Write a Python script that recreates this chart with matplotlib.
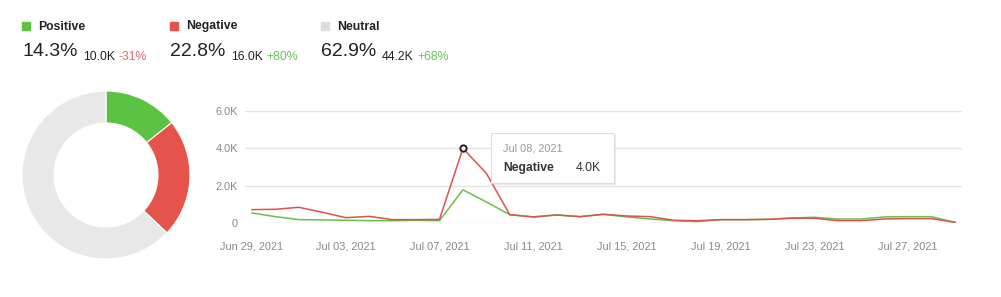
import pandas as pd
import matplotlib
matplotlib.use("Agg")
import matplotlib.pyplot as plt
import matplotlib.dates as mdates
from matplotlib.ticker import FuncFormatter
from matplotlib.patches import Rectangle
from matplotlib.transforms import Affine2D

plt.rcParams['font.family'] = ['Liberation Sans', 'DejaVu Sans']

# dados
categorias = ['Positive', 'Negative', 'Neutral']
percentuais = [14.3, 22.8, 62.9]
totais = ['10.0K', '16.0K', '44.2K']
variacoes = ['-31%', '+80%', '+68%']
datas = pd.date_range('2021-06-29', '2021-07-29', freq='D')
positivo = [550, 355, 195, 180, 160, 140, 140, 160, 140, 1790, 1140, 460, 340, 445,
            355, 480, 340, 230, 140, 90, 195, 195, 210, 285, 320, 230, 230, 340, 355, 355, 50]
negativo = [730, 750, 855, 590, 300, 370, 195, 195, 210, 4000, 2670, 460, 340, 445,
            355, 480, 390, 355, 160, 140, 195, 195, 210, 270, 270, 140, 140, 230, 250, 250, 50]

cores = ['#5cc244', '#e5534b', '#e8e8e8']
cor_linha_pos = '#6abf4b'
cor_linha_neg = '#d9534f'

W, H = 1001, 297
fig = plt.figure(figsize=(W / 100, H / 100), dpi=100)

def px(x, y):
    # pixel (origem no topo) -> coordenada da figura
    return x / W, 1 - y / H

renderer = fig.canvas.get_renderer()

# cabeçalho
colunas_x = [22, 170, 321]
for i, nome in enumerate(categorias):
    x0 = colunas_x[i]
    fig.patches.append(Rectangle(px(x0, 30), 8 / W, 8 / H, transform=fig.transFigure,
                                 color=cores[i] if i < 2 else '#dddddd', zorder=5))
    fig.text(*px(x0 + 16, 26.5), nome, fontsize=8.8, fontweight='bold', color='#222222', va='center')
    t1 = fig.text(*px(x0, 56), f'{percentuais[i]}%', fontsize=14, color='#222222', va='baseline')
    b = t1.get_window_extent(renderer)
    t2 = fig.text((b.x1 + 6) / W, b.y0 / H, totais[i], fontsize=8.8, color='#222222', va='baseline')
    b2 = t2.get_window_extent(renderer)
    cor_var = '#e06666' if variacoes[i].startswith('-') else '#6cbf5c'
    fig.text((b2.x1 + 3) / W, b.y0 / H, variacoes[i], fontsize=8.8, color=cor_var, va='baseline')

# rosca
cx, cy, r = 106, 175, 84
ax_d = fig.add_axes([(cx - r) / W, 1 - (cy + r) / H, 2 * r / W, 2 * r / H])
ax_d.pie(percentuais, colors=cores, startangle=90, counterclock=False,
         wedgeprops=dict(width=32 / 84, edgecolor='white', linewidth=0.8))
ax_d.set_xlim(-1, 1)
ax_d.set_ylim(-1, 1)
ax_d.set_aspect('equal')
ax_d.axis('off')

# linhas
x_ini, x_fim, y_top, y_zero = 245, 962, 111, 223.3
ax = fig.add_axes([x_ini / W, 1 - y_zero / H, (x_fim - x_ini) / W, (y_zero - y_top) / H])
ax.plot(datas, positivo, color=cor_linha_pos, lw=1.1, zorder=3)
ax.plot(datas, negativo, color=cor_linha_neg, lw=1.1, zorder=4)
pad = pd.Timedelta(hours=7.2)
ax.set_xlim(datas[0] - pad, datas[-1] + pad)
ax.set_ylim(0, 6000)
ax.set_yticks([0, 2000, 4000, 6000])
ax.yaxis.set_major_formatter(FuncFormatter(lambda v, p: '0' if v == 0 else f'{v / 1000:.1f}K'))
ax.set_xticks(datas[::4])
ax.xaxis.set_major_formatter(mdates.DateFormatter('%b %d, %Y'))
ax.grid(axis='y', color='#e3e3e3', lw=1)
ax.set_axisbelow(True)
for s in ax.spines.values():
    s.set_visible(False)
ax.tick_params(length=0, labelsize=7.9, labelcolor='#888888')
ax.tick_params(axis='x', pad=13)
ax.tick_params(axis='y', pad=5)

# ponto destacado + tooltip
i_pico = negativo.index(max(negativo))
ax.plot(datas[i_pico], negativo[i_pico], 'o', ms=4.5, mfc='white', mec='#222222', mew=1.4,
        zorder=6, clip_on=False)
xd, yd = ax.transData.transform((mdates.date2num(datas[i_pico]), negativo[i_pico]))
caixa = Affine2D().translate(xd, yd)
bw, bh = 123, 50
fig.patches.append(Rectangle((30, -35 - 2), bw, bh, transform=caixa, facecolor='#d8d8d8',
                             edgecolor='none', alpha=0.5, zorder=7))
fig.patches.append(Rectangle((28, -35), bw, bh, transform=caixa, facecolor='white',
                             edgecolor='#dddddd', lw=0.8, zorder=8))
fig.text(28 + 12, 0, datas[i_pico].strftime('%b %d, %Y'), transform=caixa, fontsize=7.9,
         color='#999999', va='center', zorder=9)
fig.text(28 + 12, -20, 'Negative', transform=caixa, fontsize=8.7, fontweight='bold',
         color='#333333', va='center', zorder=9)
fig.text(28 + bw - 13, -20, f'{negativo[i_pico] / 1000:.1f}K', transform=caixa, fontsize=8.7,
         color='#333333', va='center', ha='right', zorder=9)

fig.savefig('out.png', dpi=100)
